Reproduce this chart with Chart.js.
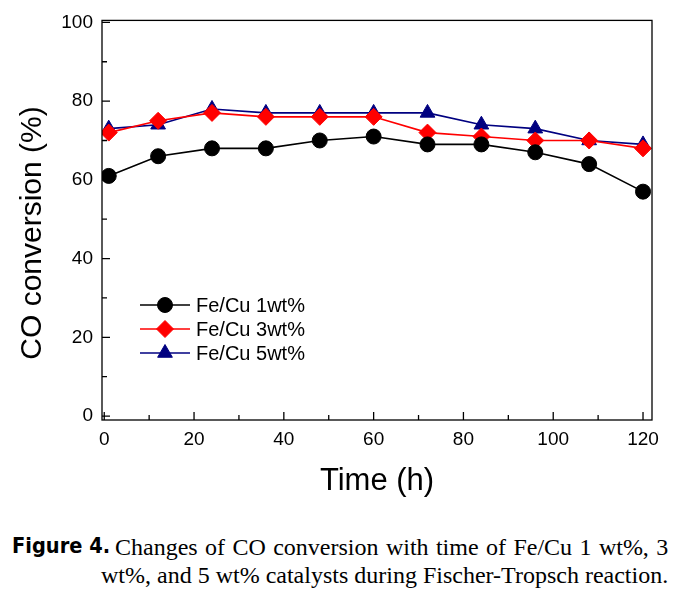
<!DOCTYPE html>
<html><head><meta charset="utf-8">
<script src="https://cdn.jsdelivr.net/npm/chart.js@4/dist/chart.umd.min.js"></script>
<style>
html,body{margin:0;padding:0;background:#fff;}
#wrap{position:relative;width:685px;height:590px;overflow:hidden;}
#cv{position:absolute;left:0;top:0;}
.cap{position:absolute;white-space:nowrap;color:#000;line-height:1;transform-origin:0 50%;}
.fig{font-family:"DejaVu Sans","Liberation Sans",sans-serif;font-weight:bold;font-size:22px;}
.txt{font-family:"Liberation Serif","DejaVu Serif",serif;font-size:24px;}
</style></head>
<body><div id="wrap">
<canvas id="cv" width="685" height="510"></canvas>
<div class="cap fig" id="c0" style="left:12px;top:535px;">Figure 4.</div>
<div class="cap txt" id="c1" style="left:115px;top:535px;">Changes of CO conversion with time of Fe/Cu 1 wt%, 3</div>
<div class="cap txt" id="c2" style="top:563px;">wt%, and 5 wt% catalysts during Fischer-Tropsch reaction.</div>
</div>
<script>
const timeH = [1, 12, 24, 36, 48, 60, 72, 84, 96, 108, 120];
const feCu1 = [61, 66, 68, 68, 70, 71, 69, 69, 67, 64, 57];
const feCu3 = [72, 75, 77, 76, 76, 76, 72, 71, 70, 70, 68];
const feCu5 = [73, 74, 78, 77, 77, 77, 77, 74, 73, 70, 69];
const seriesNames = ["Fe/Cu 1wt%", "Fe/Cu 3wt%", "Fe/Cu 5wt%"];
const xTicks = [0, 20, 40, 60, 80, 100, 120];
const yTicks = [0, 20, 40, 60, 80, 100];

function pts(ys){ return timeH.map((x,i)=>({x:x,y:ys[i]})); }

// caption layout
(function(){
  const right=668;
  const c0=document.getElementById('c0'), c1=document.getElementById('c1'), c2=document.getElementById('c2');
  c0.style.transform='scaleX('+(98/c0.offsetWidth)+')';
  const spaces1=(c1.textContent.match(/ /g)||[]).length;
  const extra=(right-115-c1.offsetWidth)/spaces1;
  if(extra>0) c1.style.wordSpacing=extra+'px';
  c2.style.left=(right-c2.offsetWidth)+'px';
})();

const framePlugin = {
  id:'frame',
  afterDraw(chart){
    const {ctx, chartArea:a, scales:{x,y}} = chart;
    ctx.save();
    ctx.strokeStyle='#000'; ctx.lineWidth=1.3;
    ctx.strokeRect(a.left, a.top, a.right-a.left, a.bottom-a.top);
    ctx.beginPath();
    for(let v=0; v<=120; v+=10){
      const px = x.getPixelForValue(v);
      const len = (v%20===0)?8:5;
      ctx.moveTo(px, a.bottom); ctx.lineTo(px, a.bottom-len);
    }
    for(let v=0; v<=100; v+=10){
      const py = y.getPixelForValue(v);
      const len = (v%20===0)?8:5;
      ctx.moveTo(a.left, py); ctx.lineTo(a.left+len, py);
    }
    ctx.stroke();
    // y axis title
    ctx.fillStyle='#000';
    ctx.font='30px "Liberation Sans", Arial, sans-serif';
    ctx.textAlign='center'; ctx.textBaseline='middle';
    ctx.translate(33, 233); ctx.rotate(-Math.PI/2);
    ctx.fillText('CO conversion (%)', 0, 0);
    ctx.setTransform(1,0,0,1,0,0);
    // legend
    const lx=140, ly=[305,329,353];
    ctx.font='20px "Liberation Sans", Arial, sans-serif';
    ctx.textAlign='left'; ctx.textBaseline='middle';
    chart.data.datasets.forEach((ds,i)=>{
      const yy=ly[i];
      ctx.strokeStyle=ds.borderColor; ctx.lineWidth=1.6;
      ctx.beginPath(); ctx.moveTo(lx,yy); ctx.lineTo(lx+50,yy); ctx.stroke();
      ctx.fillStyle=ds.backgroundColor; ctx.strokeStyle=ds.borderColor; ctx.lineWidth=1;
      Chart.helpers.drawPoint(ctx,{pointStyle:ds.pointStyle,radius:ds.pointRadius,borderWidth:1,rotation:0},lx+25,yy);
      ctx.fillStyle='#000';
      ctx.fillText(ds.label, lx+56, yy+1);
    });
    ctx.restore();
  }
};

Chart.defaults.font.family='"Liberation Sans", Arial, sans-serif';
Chart.defaults.color='#000';
new Chart(document.getElementById('cv'),{
  type:'scatter',
  data:{datasets:[
    {label:seriesNames[0],data:pts(feCu1),showLine:true,borderColor:'#000',backgroundColor:'#000',pointStyle:'circle',pointRadius:7.5,borderWidth:1.6,pointBorderWidth:1},
    {label:seriesNames[1],data:pts(feCu3),showLine:true,borderColor:'#ff0000',backgroundColor:'#ff0000',pointStyle:'rectRot',pointRadius:8.5,borderWidth:1.6,pointBorderWidth:1},
    {label:seriesNames[2],data:pts(feCu5),showLine:true,borderColor:'#000080',backgroundColor:'#000080',pointStyle:'triangle',pointRadius:8.5,borderWidth:1.6,pointBorderWidth:1}
  ]},
  options:{
    responsive:false,animation:false,
    layout:{padding:{left:0,right:33,top:16,bottom:0}},
    plugins:{legend:{display:false},tooltip:{enabled:false}},
    scales:{
      x:{type:'linear',min:-0.5,max:122,
        afterBuildTicks(s){ s.ticks = xTicks.map(v=>({value:v})); },
        afterFit(s){ s.height=90; },
        grid:{display:false,drawTicks:false},border:{display:false},
        ticks:{padding:8,font:{size:19},maxRotation:0,autoSkip:false},
        title:{display:true,text:'Time (h)',font:{size:31},padding:{top:0,bottom:10}}
      },
      y:{type:'linear',min:-1,max:100.5,
        afterBuildTicks(s){ s.ticks = yTicks.map(v=>({value:v})); },
        afterFit(s){ s.width=102; },
        grid:{display:false,drawTicks:false},border:{display:false},
        ticks:{padding:9,font:{size:19},autoSkip:false},
        title:{display:false}
      }
    }
  },
  plugins:[framePlugin]
});
</script>
</body></html>
